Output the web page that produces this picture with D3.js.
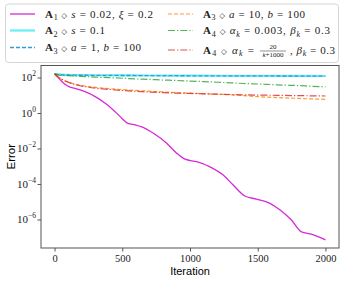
<!DOCTYPE html>
<html>
<head>
<meta charset="utf-8">
<script src="https://cdn.jsdelivr.net/npm/d3@7"></script>
<style>
  body { margin: 0; background: #fff; }
  svg { display: block; }
</style>
</head>
<body>
<svg id="chart" width="346" height="282"></svg>
<script>
// iteration grid shared by the slow methods
const iters = [0, 25, 50, 100, 150, 200, 300, 400, 500, 600, 700, 800, 900, 1000,
  1100, 1200, 1300, 1400, 1500, 1600, 1700, 1800, 1900, 2000];

// A1 (magenta) is read on its own grid
const itersA1 = [0, 20, 50, 80, 110, 150, 226, 300, 374, 447, 500, 540, 600, 640, 730, 828,
  902, 963, 1049, 1147, 1245, 1319, 1405, 1491, 1590, 1663, 1749, 1823, 1897, 2000];
const errA1 = [158, 112, 63, 40, 29.5, 24.5, 15.8, 8.3, 3.5, 1.17, 0.48, 0.26, 0.21, 0.17,
  0.072, 0.02, 5.4e-3, 2.5e-3, 1.8e-3, 9.3e-4, 3.2e-4, 8.7e-5, 2.1e-5, 1.4e-5, 8.1e-6,
  3.5e-6, 9.3e-7, 2.0e-7, 1.5e-7, 7.1e-8];

const errA2 = [158, 150, 144, 140, 137, 136, 134, 133, 132, 131, 130, 129, 128, 127,
  126, 125.5, 125, 124.5, 124, 123.5, 123, 122.5, 122, 121.5];
const errA3a = [158, 148, 141, 138, 135, 134, 132, 131, 130, 129, 128, 127, 126, 125,
  124.5, 124, 123.5, 123, 122.5, 122, 121.5, 121, 120.5, 120];
const errA3b = [158, 100, 79, 56, 42, 35, 28, 23.4, 20.9, 18.6, 17.0, 15.5, 14.1, 13.2,
  12.3, 11.5, 10.5, 9.5, 8.3, 7.6, 7.1, 6.6, 6.2, 5.9];
const errA4a = [158, 141, 132, 126, 120, 115, 105, 98, 91, 83, 78, 72, 68, 63,
  59, 54, 50, 46, 43, 40, 37, 35, 32, 30];
const errA4b = [158, 112, 83, 55, 40, 33, 25, 21.4, 18.6, 16.6, 15.1, 14.1, 13.2, 12.6,
  12.0, 11.5, 11.0, 10.5, 10.2, 10.0, 9.8, 9.5, 9.3, 9.1];

const xTicks = [0, 500, 1000, 1500, 2000];
const yTickExp = [2, 0, -2, -4, -6];

const series = [
  { x: itersA1, y: errA1, color: "#d62ad6", width: 1.3, dash: null, opacity: 1 },
  { x: iters, y: errA2, color: "#00e5ee", width: 2.2, dash: null, opacity: 0.6 },
  { x: iters, y: errA3a, color: "#3399e0", width: 1.3, dash: "4,2", opacity: 1 },
  { x: iters, y: errA3b, color: "#ff7f0e", width: 1.2, dash: "4,2", opacity: 0.8 },
  { x: iters, y: errA4a, color: "#2ca02c", width: 1.2, dash: "7,2,1.3,2", opacity: 0.8 },
  { x: iters, y: errA4b, color: "#d62728", width: 1.2, dash: "7,2,1.3,2", opacity: 0.8 }
];

const svg = d3.select("#chart");
const m = { left: 41, right: 339, top: 65.5, bottom: 248 };

const xScale = d3.scaleLinear().domain([-100, 2100]).range([m.left, m.right]);
const yScale = d3.scaleLog().domain([Math.pow(10, -7.606), Math.pow(10, 2.676)]).range([m.bottom, m.top]);

const serif = "'Liberation Serif', 'DejaVu Serif', serif";
const sans = "'Liberation Sans', Arial, sans-serif";
const axisColor = "#555";

// lines, clipped to the axes box
svg.append("clipPath").attr("id", "clip")
  .append("rect").attr("x", m.left).attr("y", m.top).attr("width", m.right - m.left).attr("height", m.bottom - m.top);

const line = d3.line().curve(d3.curveMonotoneX);
const plot = svg.append("g").attr("clip-path", "url(#clip)");
series.forEach(s => {
  plot.append("path")
    .attr("fill", "none")
    .attr("stroke", s.color)
    .attr("stroke-width", s.width)
    .attr("stroke-opacity", s.opacity)
    .attr("stroke-dasharray", s.dash)
    .attr("d", line(s.x.map((v, i) => [xScale(v), yScale(s.y[i])])));
});

// axes box
svg.append("rect")
  .attr("x", m.left).attr("y", m.top).attr("width", m.right - m.left).attr("height", m.bottom - m.top)
  .attr("fill", "none").attr("stroke", axisColor).attr("stroke-width", 1);

// x axis
const xAxis = d3.axisBottom(xScale).tickValues(xTicks).tickSize(3.5).tickPadding(3).tickFormat(d3.format("d"));
const xg = svg.append("g").attr("transform", `translate(0,${m.bottom})`).call(xAxis);
xg.select(".domain").remove();
xg.selectAll("line").attr("stroke", axisColor);
xg.selectAll("text").attr("font-family", serif).attr("font-size", 10.5).attr("fill", "#222");

// y axis, labels as 10^n
const yAxis = d3.axisLeft(yScale).tickValues(yTickExp.map(e => Math.pow(10, e))).tickSize(3.5).tickFormat("");
const yg = svg.append("g").attr("transform", `translate(${m.left},0)`).call(yAxis);
yg.select(".domain").remove();
yg.selectAll("line").attr("stroke", axisColor);
yTickExp.forEach(e => {
  const t = svg.append("text")
    .attr("x", m.left - 5).attr("y", yScale(Math.pow(10, e)) + 4)
    .attr("text-anchor", "end").attr("font-family", serif).attr("font-size", 11).attr("fill", "#222");
  t.append("tspan").text("10");
  t.append("tspan").attr("dy", -5).attr("font-size", 7.5).text(e < 0 ? "\u2212" + (-e) : e);
});

// axis titles
svg.append("text").attr("x", (m.left + m.right) / 2).attr("y", 275)
  .attr("text-anchor", "middle").attr("font-family", sans).attr("font-size", 11).text("Iteration");
svg.append("text").attr("transform", `translate(15,${(m.top + m.bottom) / 2}) rotate(-90)`)
  .attr("text-anchor", "middle").attr("font-family", sans).attr("font-size", 11.5).text("Error");

// legend
svg.append("rect").attr("x", 5.5).attr("y", 4).attr("width", 333).attr("height", 58.5)
  .attr("rx", 3).attr("fill", "#fff").attr("fill-opacity", 0.85).attr("stroke", "#ccc").attr("stroke-width", 0.8);

const legendPos = [
  { x: 10, y: 14 }, { x: 10, y: 30.5 }, { x: 10, y: 47.5 },
  { x: 168, y: 14 }, { x: 168, y: 30.5 }, { x: 168, y: 50 }
];

// label pieces: [text, style]; each entry is a list of runs with target widths
const dia = ["\u25C7", "op"];
const labels = [
  [{ w: 108, parts: [["A", "b"], ["1", "sub"], dia, ["s", "i"], ["= 0.02,", ""], ["\u03BE", "i"], ["= 0.2", ""]] }],
  [{ w: 60, parts: [["A", "b"], ["2", "sub"], dia, ["s", "i"], ["= 0.1", ""]] }],
  [{ w: 96, parts: [["A", "b"], ["3", "sub"], dia, ["a", "i"], ["= 1,", ""], ["b", "i"], ["= 100", ""]] }],
  [{ w: 102, parts: [["A", "b"], ["3", "sub"], dia, ["a", "i"], ["= 10,", ""], ["b", "i"], ["= 100", ""]] }],
  [{ w: 127, parts: [["A", "b"], ["4", "sub"], dia, ["\u03B1", "i"], ["k", "subi"], ["= 0.003,", ""], ["\u03B2", "i"], ["k", "subi"], ["= 0.3", ""]] }],
  [{ w: 51, parts: [["A", "b"], ["4", "sub"], dia, ["\u03B1", "i"], ["k", "subi"], ["=", ""]] },
   { frac: ["20", "k", "+1000"], w: 30 },
   { w: 45, parts: [[",", ""], ["\u03B2", "i"], ["k", "subi"], ["= 0.3", ""]] }]
];

function drawRun(x, y, run) {
  const t = svg.append("text").attr("x", x).attr("y", y)
    .attr("font-family", serif).attr("font-size", 11).attr("fill", "#222");
  let shifted = false;
  run.parts.forEach(([txt, st], j) => {
    const sp = t.append("tspan").text((j > 0 && st !== "sub" && st !== "subi" && txt !== "," ? " " : "") + txt);
    if (st === "b") sp.attr("font-weight", "bold");
    if (st === "i" || st === "subi") sp.attr("font-style", "italic");
    if (st === "op") sp.attr("font-family", "'DejaVu Sans', sans-serif").attr("font-size", 7.5);
    if (st === "sub" || st === "subi") {
      sp.attr("font-size", 8).attr("dy", 2.5);
      shifted = true;
    } else if (shifted) {
      sp.attr("dy", -2.5);
      shifted = false;
    }
  });
  t.attr("textLength", run.w).attr("lengthAdjust", "spacing");
}

function drawFrac(x, y, run) {
  const cx = x + run.w / 2;
  svg.append("text").attr("x", cx).attr("y", y - 4.5).attr("text-anchor", "middle")
    .attr("font-family", serif).attr("font-size", 7).attr("fill", "#222").text(run.frac[0]);
  svg.append("line").attr("x1", x + 2).attr("x2", x + run.w - 2).attr("y1", y - 2.8).attr("y2", y - 2.8)
    .attr("stroke", "#222").attr("stroke-width", 0.5);
  const d = svg.append("text").attr("x", cx).attr("y", y + 3.5).attr("text-anchor", "middle")
    .attr("font-family", serif).attr("font-size", 7).attr("fill", "#222");
  d.append("tspan").attr("font-style", "italic").text(run.frac[1]);
  d.append("tspan").text(run.frac[2]);
}

series.forEach((s, i) => {
  const p = legendPos[i];
  svg.append("line")
    .attr("x1", p.x).attr("x2", p.x + 25).attr("y1", p.y).attr("y2", p.y)
    .attr("stroke", s.color).attr("stroke-width", s.width).attr("stroke-opacity", s.opacity)
    .attr("stroke-dasharray", s.dash);

  let x = p.x + 35;
  const y = p.y + 3.8;
  labels[i].forEach(run => {
    if (run.frac) drawFrac(x + 2, y, run);
    else drawRun(x, y, run);
    x += run.w + (run.frac ? 4 : 2);
  });
});
</script>
</body>
</html>
